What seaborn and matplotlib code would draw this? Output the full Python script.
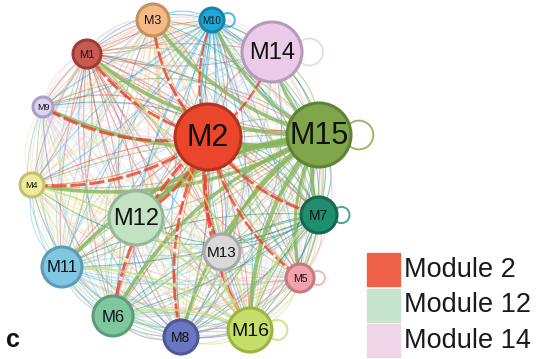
import numpy as np
import pandas as pd
import matplotlib
matplotlib.use("Agg")
import matplotlib.pyplot as plt
import seaborn as sns
from matplotlib.patches import Rectangle, Circle

# ---------------- data ----------------
node_names = ["M1", "M3", "M10", "M14", "M9", "M2", "M15", "M4",
              "M12", "M7", "M13", "M11", "M5", "M6", "M8", "M16"]
layout_x = [87, 153, 212, 272, 43, 208, 319, 32, 136, 319, 222, 62, 300, 113, 181, 250]
layout_y = [54, 20, 20, 52, 107, 137, 135, 185, 218, 215, 252, 267, 278, 316, 337, 330]
node_radius = [14, 16, 12, 30, 10, 33, 32, 12, 27, 18, 18, 20, 14, 20, 17, 22]
node_fill = ["#c95a52", "#f4bb86", "#1ea9d9", "#ebcbe8", "#dcd4ee", "#e9462b",
             "#7fa64b", "#eeeb9c", "#c2e2c3", "#1f8e70", "#d9d9d9", "#80c7e2",
             "#f1a3aa", "#7fc79f", "#6a77c0", "#c6de6a"]
node_edge = ["#9c3c36", "#c8905c", "#1784ad", "#b59bbb", "#a9a0c4", "#b3311d",
             "#5f8236", "#c4c06e", "#95b896", "#15684f", "#a9a9a9", "#5b9cb6",
             "#c47b82", "#5c9d78", "#4c5897", "#9db345"]
label_size = [8, 9, 7, 17, 6.5, 22, 22, 6.5, 17, 10, 11, 12, 7.5, 12, 10, 14]
self_loops = ["M10", "M14", "M15", "M7", "M5", "M16"]

strong_src = ["M15"] * 15 + ["M2"] * 13 + ["M16"] * 7
strong_dst = ["M1", "M3", "M10", "M9", "M4", "M12", "M11", "M6", "M8", "M16",
              "M7", "M5", "M13", "M14", "M2",
              "M1", "M9", "M4", "M3", "M12", "M6", "M8", "M16", "M13", "M7",
              "M5", "M14", "M10",
              "M11", "M6", "M12", "M4", "M7", "M1", "M13"]
strong_w = [2.8, 2.6, 2.2, 2.6, 2.6, 3.0, 2.6, 2.6, 2.2, 3.0,
            2.8, 2.2, 2.0, 2.2, 3.2,
            2.0, 2.2, 2.2, 2.0, 2.0, 2.2, 2.0, 2.2, 1.8, 2.0,
            1.8, 1.6, 1.6,
            1.5, 1.5, 1.5, 1.3, 1.5, 1.3, 1.3]
strong_color = {"M15": "#86b55a", "M2": "#ec3d22", "M16": "#c8e07a"}

legend_labels = ["Module 2", "Module 12", "Module 14"]
legend_colors = ["#ef6149", "#c7e5cc", "#f0d5e9"]

# ---------------- figure ----------------
sns.set_theme(style="white")
plt.rcParams["font.family"] = ["Liberation Sans", "DejaVu Sans"]
fig = plt.figure(figsize=(5.45, 3.59), dpi=100)
ax = fig.add_axes([0, 0, 1, 1])

pos = {n: (x, y) for n, x, y in zip(node_names, layout_x, layout_y)}
col = dict(zip(node_names, node_fill))
center = np.array([np.mean(layout_x), np.mean(layout_y)])


def arc(p0, p1, rad, outward=True):
    p0 = np.asarray(p0, float); p1 = np.asarray(p1, float)
    d = p1 - p0
    perp = np.array([-d[1], d[0]])
    mid = (p0 + p1) / 2
    if np.dot(perp, mid - center) < 0:
        perp = -perp
    if not outward:
        perp = -perp
    c = mid + rad * perp
    t = np.linspace(0, 1, 40)[:, None]
    pts = (1 - t) ** 2 * p0 + 2 * (1 - t) * t * c + t ** 2 * p1
    return pts[:, 0], pts[:, 1]


# faint background edges (every pair, several curvatures)
n = len(node_names)
for i in range(n):
    for j in range(i + 1, n):
        a, b = node_names[i], node_names[j]
        for k, (rad, out) in enumerate([(0.1, True), (0.3, True), (0.14, False)]):
            c = col[a] if k != 1 else col[b]
            xs, ys = arc(pos[a], pos[b], rad, out)
            ax.plot(xs, ys, color=c, lw=0.8, alpha=0.5, zorder=1,
                    solid_capstyle="round")

# strong edges
for s, d, w in zip(strong_src, strong_dst, strong_w):
    xs, ys = arc(pos[s], pos[d], 0.18, outward=False)
    ls = (0, (5, 1.2)) if s == "M2" else "-"
    ax.plot(xs, ys, color=strong_color[s], lw=w, alpha=0.8, zorder=2,
            linestyle=ls, solid_capstyle="round")

# self loops
for name in self_loops:
    i = node_names.index(name)
    r = node_radius[i]
    lr = max(7, r * 0.45)
    ax.add_patch(Circle((layout_x[i] + r + lr * 0.55, layout_y[i]), lr,
                        fill=False, ec=node_fill[i], lw=1.4, alpha=0.8, zorder=2))

# nodes
df = pd.DataFrame({"name": node_names, "x": layout_x, "y": layout_y,
                   "s": [(2 * r * 0.72) ** 2 for r in node_radius]})
sns.scatterplot(data=df, x="x", y="y", hue="name", palette=col, size="s",
                sizes=(min(df.s), max(df.s)), legend=False, ax=ax,
                edgecolor=node_edge, linewidth=2.2, zorder=4)
ax.set_xlim(0, 545)
ax.set_ylim(359, 0)
ax.axis("off")

for nm, x, y, fs in zip(node_names, layout_x, layout_y, label_size):
    ax.text(x, y + 1, nm, ha="center", va="center", fontsize=fs,
            color="#111111", zorder=5)

# panel label
ax.text(6, 340, "c", fontsize=18, fontweight="bold", va="center", ha="left",
        color="#111111")

# legend
for k, (lab, c) in enumerate(zip(legend_labels, legend_colors)):
    y0 = 253 + k * 35.5
    ax.add_patch(Rectangle((367, y0), 33, 33, color=c, zorder=3))
    ax.text(404, y0 + 17, lab, fontsize=19.5, va="center", ha="left",
            color="#1a1a1a")

fig.savefig("out.png", dpi=100)
